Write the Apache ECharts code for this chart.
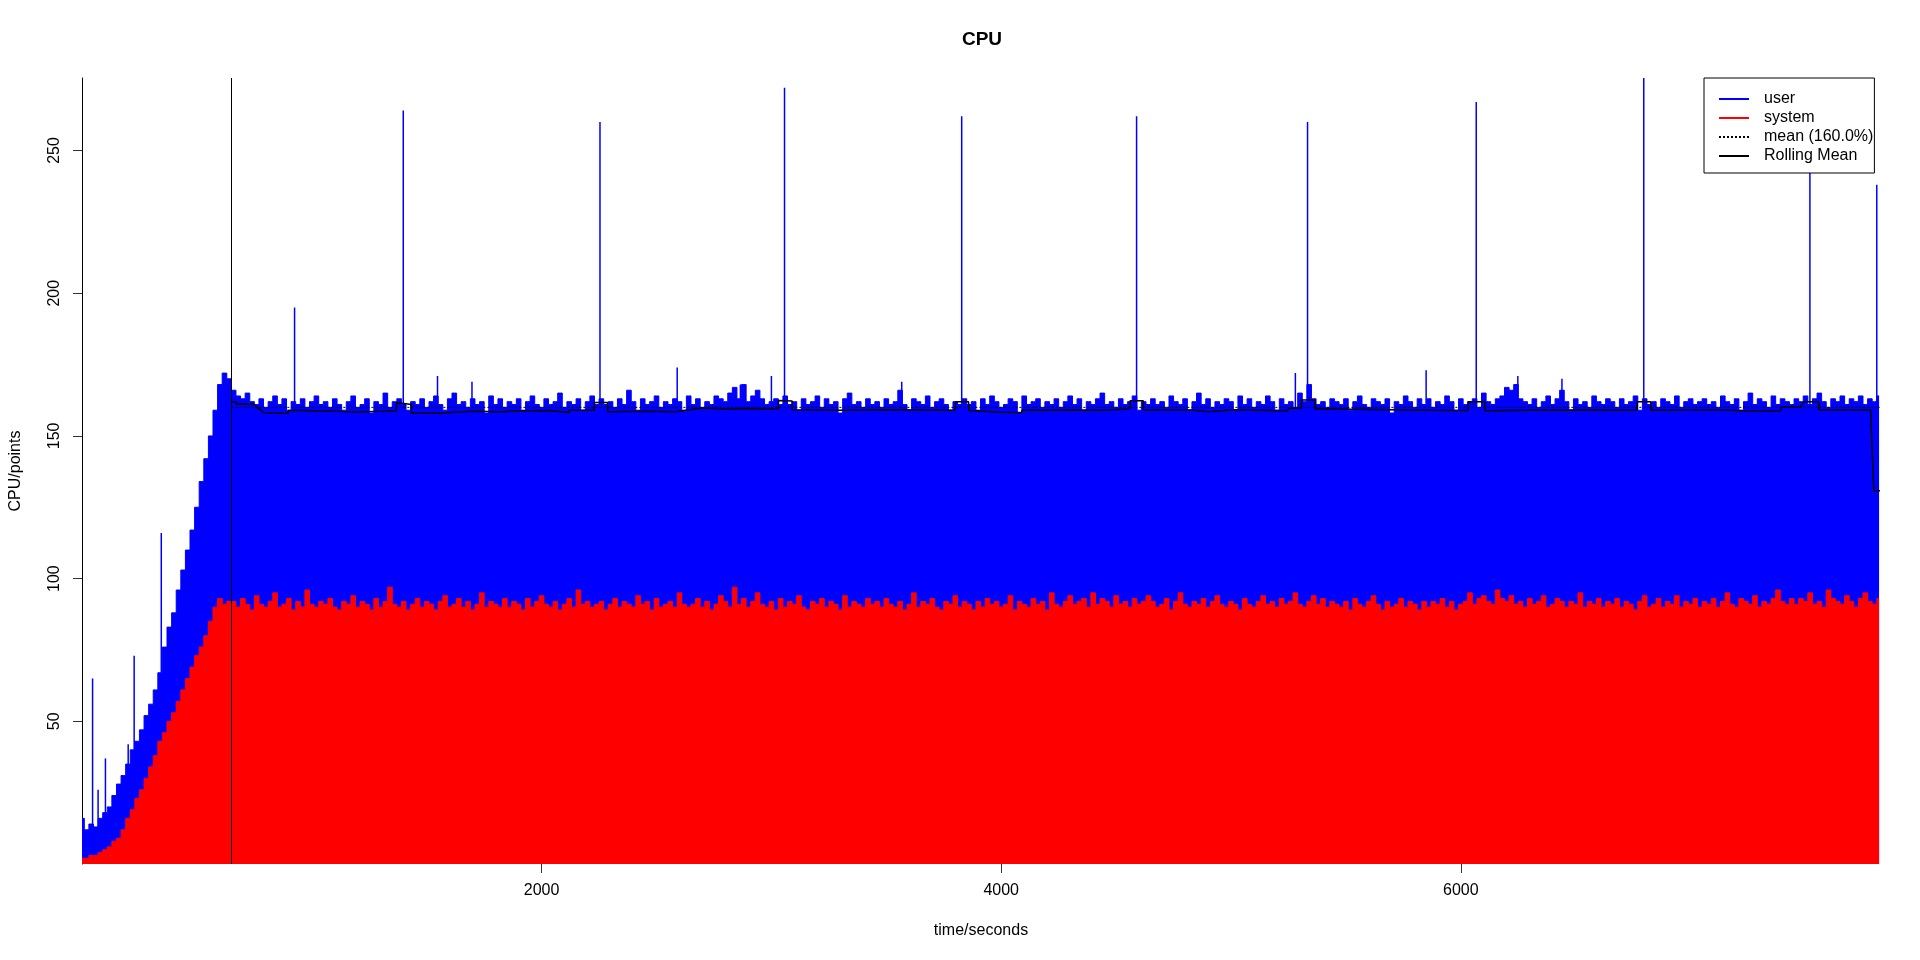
<!DOCTYPE html>
<html>
<head>
<meta charset="utf-8">
<script src="https://cdn.jsdelivr.net/npm/echarts@6/dist/echarts.min.js"></script>
<style>html,body{margin:0;padding:0;background:#fff}#chart{width:1920px;height:960px}</style>
</head>
<body>
<div id="chart"></div>
<script>
// ---- data ----
const chartTitle = 'CPU';
const xAxisName = 'time/seconds';
const yAxisName = 'CPU/points';
const xTicks = [2000, 4000, 6000];
const yTicks = [50, 100, 150, 200, 250];
const xMax = 7824;
const yMax = 275.4;
const sampleStep = 20; // seconds between samples below, starting at t = 0

// user (total) CPU, one value per 20 s
const userValues = [
16,12,14,13,16,18,20,24,28,31,35,40,43,47,52,56,61,67,76,83,88,96,103,110,117,125,134,142,150,159,168,172,170,
166,164,163,165,162,161,163,160,162,164,161,163,159,162,161,163,160,162,164,161,
162,160,163,161,159,162,164,160,161,163,158,162,161,165,160,162,163,161,159,162,
161,163,160,162,164,161,159,163,165,161,162,160,163,161,162,158,164,161,163,160,
162,161,163,159,162,164,161,160,163,161,162,165,160,162,161,163,159,162,164,161,
163,161,162,160,163,161,166,162,159,163,161,162,164,160,162,161,163,162,159,164,
161,163,160,162,161,164,163,162,165,167,163,168,162,164,166,163,161,162,163,161,
164,161,162,159,163,161,162,164,160,163,161,162,158,163,165,161,162,160,163,161,
162,160,163,161,162,166,161,159,163,162,161,164,160,162,163,161,159,162,161,163,
161,162,159,163,161,164,162,160,161,163,162,158,164,161,162,163,160,162,161,163,
160,162,164,161,163,159,162,161,163,165,161,162,160,163,161,162,164,159,162,161,
163,161,162,160,164,162,161,163,159,162,165,161,163,160,162,161,163,162,159,164,
161,163,160,162,161,164,162,159,163,161,162,160,165,162,168,163,161,162,160,163,
162,161,163,159,162,164,161,160,163,162,161,163,158,162,161,164,162,160,163,161,
163,160,162,161,164,162,159,163,161,162,163,160,165,162,161,163,164,167,166,168,
163,162,161,163,160,162,164,161,163,166,162,159,163,161,162,160,164,162,161,163,
162,160,163,161,162,164,159,163,161,162,160,163,162,161,164,160,162,163,161,162,
163,161,162,160,164,162,161,163,159,162,165,161,163,162,160,164,161,163,162,161,
163,162,164,161,163,165,162,160,163,162,164,161,163,162,164,161,163,162,164
];

// system CPU, one value per 20 s
const systemValues = [
2,2,3,3,4,5,6,8,9,12,16,19,23,26,30,34,38,43,46,50,53,57,61,65,69,73,76,80,85,90,93,91,92,
92,90,93,91,89,94,91,90,92,95,90,91,93,89,92,90,96,91,90,92,
91,93,90,89,92,91,94,90,92,91,89,93,90,92,97,91,90,92,89,91,
93,90,92,91,89,92,94,90,91,93,90,92,89,91,95,90,92,91,90,93,
90,92,91,89,93,90,92,94,91,90,92,89,91,93,90,96,91,92,90,91,
92,89,91,93,90,92,91,90,94,91,92,89,93,90,91,92,90,95,91,90,
91,93,90,92,89,91,94,92,90,97,91,93,90,92,95,91,90,92,89,93,
90,92,91,94,90,89,92,91,93,90,92,91,89,94,90,92,91,90,93,91,
92,90,93,91,90,92,89,91,95,90,92,91,93,90,89,92,91,94,90,92,
91,89,92,90,93,91,92,90,91,94,89,92,91,90,93,91,92,89,95,91,
90,92,94,91,92,93,90,95,91,93,92,90,94,91,92,90,93,91,92,94,
92,90,91,93,89,92,95,91,90,92,91,93,90,92,94,91,90,92,91,89,
93,91,90,92,94,91,92,90,93,91,92,95,91,90,92,94,91,93,90,92,
91,90,92,89,93,91,90,92,94,91,89,92,90,91,93,90,92,91,89,92,
90,92,91,93,90,92,89,91,92,95,91,93,94,92,91,96,93,92,94,91,
92,90,93,91,92,94,90,91,93,92,90,92,91,95,90,92,91,93,90,92,
91,93,90,92,91,89,92,94,90,91,93,90,92,91,94,90,92,91,93,90,
92,91,93,90,92,95,91,90,93,92,91,94,90,92,91,93,96,92,91,93,
91,93,92,95,91,92,90,96,93,92,91,94,92,90,93,95,92,91,93
];

// isolated user peaks: [time, value]
const userPeaks = [
[46,65],[70,26],[102,37],[201,42],[227,73],[345,116],[925,195],[1398,264],[1547,171],
[1697,169],[2254,260],[2590,174],[2865,168],[3000,171],[3057,272],[3567,169],[3828,262],
[4589,262],[5280,172],[5333,260],[5849,173],[6067,267],[6248,171],[6440,170],[6796,276],
[7519,262],[7810,238]
];

// overall mean and the point where it starts
const meanValue = 160.0;
const meanStart = 650;
const markerTime = 650;

// rolling mean: [time, value]
const rollingMean = [
[650,162],[671,162],[672,161.2],[744,161.2],[795,158],[897,157.9],[898,158.9],[962,158.9],
[963,158.4],[1100,158.6],[1200,158.4],[1310,158.6],[1311,158.8],[1368,158.8],[1369,161.7],
[1433,161],[1434,157.9],[1541,157.9],[1542,158.5],[1700,158.6],[1831,158.5],[1900,158.8],
[2034,158.9],[2035,158.2],[2120,158.2],[2121,159],[2229,159],[2230,161.7],[2287,161.7],
[2288,158.5],[2450,158.6],[2584,158.5],[2585,159],[2700,159.8],[2800,159.4],[2900,159.6],
[3030,159.4],[3031,162.4],[3090,162.2],[3091,159.2],[3300,159],[3500,159.2],[3800,159],
[3801,162],[3858,162],[3859,158.9],[4002,158.3],[4089,158.2],[4090,159],[4300,159.1],
[4437,159],[4438,159.4],[4560,159.4],[4561,162.3],[4618,162.3],[4619,159.1],[4828,159.1],
[4829,158.5],[4900,158.5],[4901,159.2],[5016,159.2],[5017,158.8],[5248,158.8],[5249,159.7],
[5306,159.7],[5307,162.6],[5364,162.6],[5365,159.4],[5451,159.4],[5452,159],[5857,159],
[5858,158.9],[6031,158.9],[6032,162],[6104,162],[6105,158.8],[6300,159],[6500,159.1],
[6767,159],[6768,162],[6826,162],[6827,159],[7044,159.1],[7131,159.1],[7132,158.6],
[7305,158.6],[7306,158.8],[7392,158.8],[7393,160],[7479,160],[7493,162],[7558,162],
[7559,159.1],[7783,159.1],[7797,130.8],[7824,130.8]
];

const legendNames = ['user', 'system', 'mean (160.0%)', 'Rolling Mean'];

// ---- build ----
const userData = userValues.map((v, i) => [i * sampleStep, v]);
const systemData = systemValues.map((v, i) => [i * sampleStep, v]);
const meanData = [[meanStart, meanValue], [xMax, meanValue]];

const FONT = '"Liberation Sans", Arial, Helvetica, sans-serif';
const plainNum = v => String(v);
const chart = echarts.init(document.getElementById('chart'), null, {renderer: 'canvas'});
chart.setOption({
  animation: false,
  backgroundColor: '#ffffff',
  textStyle: {fontFamily: FONT, color: '#000'},
  title: {
    text: chartTitle,
    left: 977, top: 25, textAlign: 'center',
    textStyle: {fontSize: 19, fontWeight: 'bold', color: '#000', fontFamily: FONT}
  },
  legend: {
    data: legendNames,
    orient: 'vertical',
    left: 1704, top: 78,
    itemWidth: 30, itemHeight: 14, itemGap: 3,
    padding: [13, 1, 9, 14],
    backgroundColor: '#ffffff',
    borderColor: '#000', borderWidth: 1, borderRadius: 0,
    itemStyle: {opacity: 0},
    textStyle: {fontSize: 16, color: '#000', fontFamily: FONT, lineHeight: 14, padding: [0, 0, 0, 10]}
  },
  grid: {left: 78, right: 40, top: 78, bottom: 96, containLabel: false},
  xAxis: {
    type: 'value', min: 0, max: xMax,
    name: xAxisName, nameLocation: 'middle', nameGap: 59,
    nameTextStyle: {fontSize: 16, color: '#000', fontFamily: FONT},
    axisLine: {show: false},
    splitLine: {show: false},
    axisTick: {show: true, customValues: xTicks, length: 9, lineStyle: {color: '#333', width: 1}},
    axisLabel: {customValues: xTicks, formatter: plainNum, fontSize: 16, color: '#000', margin: 19, fontFamily: FONT}
  },
  yAxis: {
    type: 'value', min: 0, max: yMax, interval: 50,
    name: yAxisName, nameLocation: 'middle', nameGap: 58, nameRotate: 90,
    nameTextStyle: {fontSize: 16, color: '#000', fontFamily: FONT},
    axisLine: {show: true, lineStyle: {color: '#000', width: 1}},
    splitLine: {show: false},
    axisTick: {show: true, customValues: yTicks, length: 9, lineStyle: {color: '#333', width: 1}},
    axisLabel: {customValues: yTicks, formatter: plainNum, rotate: 90, fontSize: 16, color: '#000', margin: 19, fontFamily: FONT}
  },
  series: [
    {
      name: 'user', type: 'line', data: userData, step: 'middle',
      symbol: 'none', showSymbol: false,
      lineStyle: {color: '#0000ff', width: 1},
      itemStyle: {color: '#0000ff'},
      areaStyle: {color: '#0000ff', opacity: 1}
    },
    {
      name: 'user peaks', type: 'bar', data: userPeaks, barWidth: 1.5,
      itemStyle: {color: '#0000ff'}
    },
    {
      name: 'system', type: 'line', data: systemData, step: 'middle',
      symbol: 'none', showSymbol: false,
      lineStyle: {color: '#ff0000', width: 1},
      itemStyle: {color: '#ff0000'},
      areaStyle: {color: '#ff0000', opacity: 1}
    },
    {
      name: 'mean (160.0%)', type: 'line', data: meanData,
      symbol: 'none', showSymbol: false,
      lineStyle: {color: '#000', width: 1, type: [2, 2]},
      itemStyle: {color: '#000'}
    },
    {
      name: 'Rolling Mean', type: 'line', data: rollingMean,
      symbol: 'none', showSymbol: false,
      lineStyle: {color: '#000', width: 1.5},
      itemStyle: {color: '#000'},
      markLine: {
        silent: true, symbol: ['none', 'none'],
        label: {show: false},
        lineStyle: {color: '#000', width: 1, type: 'solid'},
        data: [{xAxis: markerTime}]
      }
    }
  ]
});
</script>
</body>
</html>
